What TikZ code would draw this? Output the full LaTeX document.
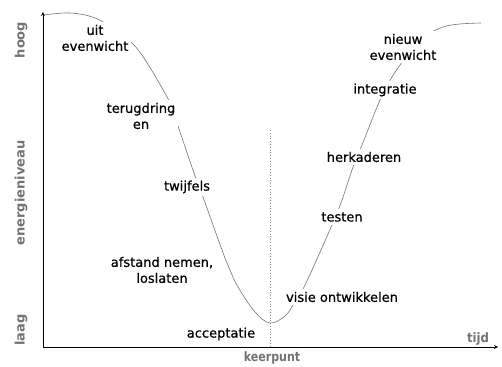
\documentclass[tikz,border=0pt]{standalone}
\usepackage{fontspec}
\setmainfont{DejaVu Sans}
\newfontfamily\phasefont[FakeBold=0.6]{DejaVu Sans}
\begin{document}
\begin{tikzpicture}[
    x=1pt,
    y=-1pt,
    phase/.style={
        fill=white,
        inner sep=3pt,
        align=center,
        font=\phasefont\fontsize{13}{16}\selectfont
    },
    axislabel/.style={
        text=black!55,
        font=\bfseries\fontsize{13}{15}\selectfont
    },
    axis/.style={
        ->,
        >=stealth,
        thick
    },
    curve/.style={
        black!55,
        line width=0.6pt
    }
]
\useasboundingbox (0,0) rectangle (502,366);

% Assen
\coordinate (origin) at (43,347);
\coordinate (ytop) at (43,12);
\coordinate (xend) at (498,347);
\draw[axis] (origin) -- (ytop);
\draw[axis] (origin) -- (xend);

% Assenlabels
\node[axislabel, rotate=90] (hoog) at (21,40) {hoog};
\node[axislabel, rotate=90] (energie) at (21,193) {energieniveau};
\node[axislabel, rotate=90] (laag) at (21,330) {laag};
\node[axislabel, xscale=0.9] (tijd) at (478,339) {tijd};

% Keerpunt
\coordinate (turn) at (270,130);
\draw[black!45, dotted, thick] (turn) -- (turn |- origin);
\node[axislabel, xscale=0.85] (keerpunt) at (272,358) {keerpunt};

% Curve
\draw[curve] plot[smooth, tension=0.6] coordinates {
    (44,15) (70,13) (95,18) (118,32) (139,51) (166,95) (173,112)
    (180,132) (194,173) (203,197) (222,250) (230,270) (238,287)
    (255,312) (270,323) (285,316) (293,305) (299,294) (306,283)
    (332,225) (342,200) (353,167) (362,145) (380,100) (392,77)
    (400,65) (412,48) (425,36) (443,27) (460,24) (481,23)
};

% Fasen
\node[phase] (uit) at (95,38) {uit\\evenwicht};
\node[phase] (terug) at (141,116) {terugdring\\en};
\node[phase] (twijfel) at (187,187) {twijfels};
\node[phase] (afstand) at (162,270) {afstand nemen,\\loslaten};
\node[phase] (accept) at (221,334) {acceptatie};
\node[phase] (visie) at (342,297) {visie ontwikkelen};
\node[phase] (testen) at (342,217) {testen};
\node[phase] (herkader) at (364,157) {herkaderen};
\node[phase] (integr) at (385,90) {integratie};
\node[phase] (nieuw) at (403,47) {nieuw\\evenwicht};

\end{tikzpicture}
\end{document}
